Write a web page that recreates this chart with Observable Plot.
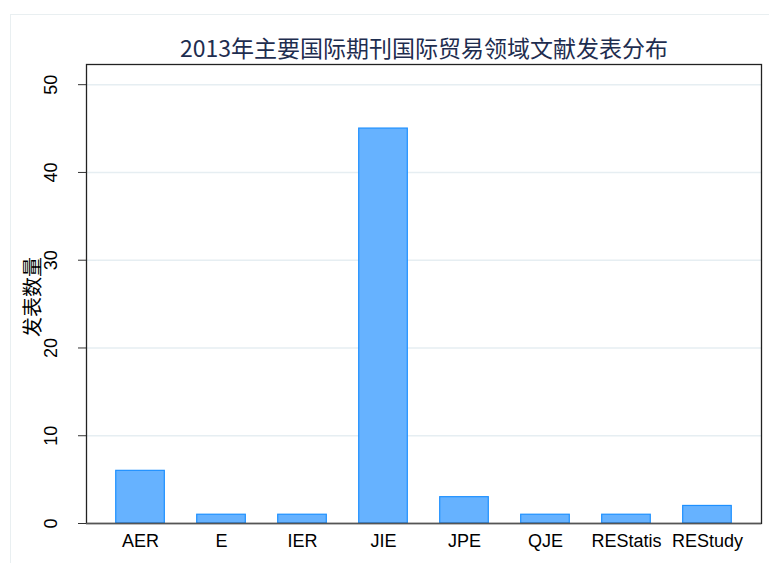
<!DOCTYPE html>
<html>
<head>
<meta charset="utf-8">
<script src="https://cdn.jsdelivr.net/npm/d3@7"></script>
<script src="https://cdn.jsdelivr.net/npm/@observablehq/plot@0.6"></script>
<style>
  html, body { margin: 0; padding: 0; background: #fff; }
  #wrap { position: relative; width: 769px; height: 563px; overflow: hidden; }
  #outer { position: absolute; left: 10px; top: 14px; right: 0; bottom: 0;
           border-top: 1px solid #e9eff1; border-left: 1px solid #e9eff1; }
  #chart { position: absolute; left: 0; top: 0; }
  svg { font-family: "Liberation Sans", Arial, "Noto Sans CJK SC", sans-serif; }
</style>
</head>
<body>
<div id="wrap"><div id="outer"></div><div id="chart"></div></div>
<script>
const journals = ["AER", "E", "IER", "JIE", "JPE", "QJE", "REStatis", "REStudy"];
const counts = [6, 1, 1, 45, 3, 1, 1, 2];
const yTicks = [0, 10, 20, 30, 40, 50];
const titleText = "2013年主要国际期刊国际贸易领域文献发表分布";
const yLabel = "发表数量";

const data = journals.map((j, i) => ({journal: j, count: counts[i]}));

const chart = Plot.plot({
  width: 769,
  height: 563,
  marginTop: 64,
  marginBottom: 40,
  marginLeft: 86,
  marginRight: 8,
  style: {fontFamily: '"Liberation Sans", Arial, "Noto Sans CJK SC", sans-serif', fontSize: "18px", background: "transparent"},
  x: {domain: journals, paddingInner: 0.4, paddingOuter: 0.367, round: false, label: null},
  y: {domain: [0, 52.3], label: null},
  marks: [
    Plot.gridY(yTicks.filter(d => d > 0), {stroke: "#e6eef2", strokeOpacity: 1, strokeWidth: 1.5}),
    Plot.barY(data, {x: "journal", y: "count", fill: "#66b2ff", stroke: "#1e90ff", strokeWidth: 1.2}),
    Plot.axisY(yTicks, {tickSize: 8, tickPadding: 22, tickRotate: -90, fontSize: 18, fill: "#000", stroke: "#333", label: null}),
    Plot.axisX({tickSize: 0, tickPadding: 11, fontSize: 18, fill: "#000", label: null}),
    Plot.frame({stroke: "#222", strokeWidth: 1.3}),
    Plot.ruleY([0], {stroke: "#555", strokeWidth: 1.5}),
    Plot.text([titleText], {frameAnchor: "top", dy: -24, fontSize: 23, fill: "#1e2d4f",
      fontFamily: '"Noto Sans CJK SC", "Liberation Sans", sans-serif'}),
    Plot.text([yLabel], {frameAnchor: "left", textAnchor: "middle", dx: -53, dy: 3, rotate: -90, fontSize: 20, fill: "#000",
      fontFamily: '"Noto Sans CJK SC", sans-serif'})
  ]
});
document.getElementById("chart").appendChild(chart);
</script>
</body>
</html>
